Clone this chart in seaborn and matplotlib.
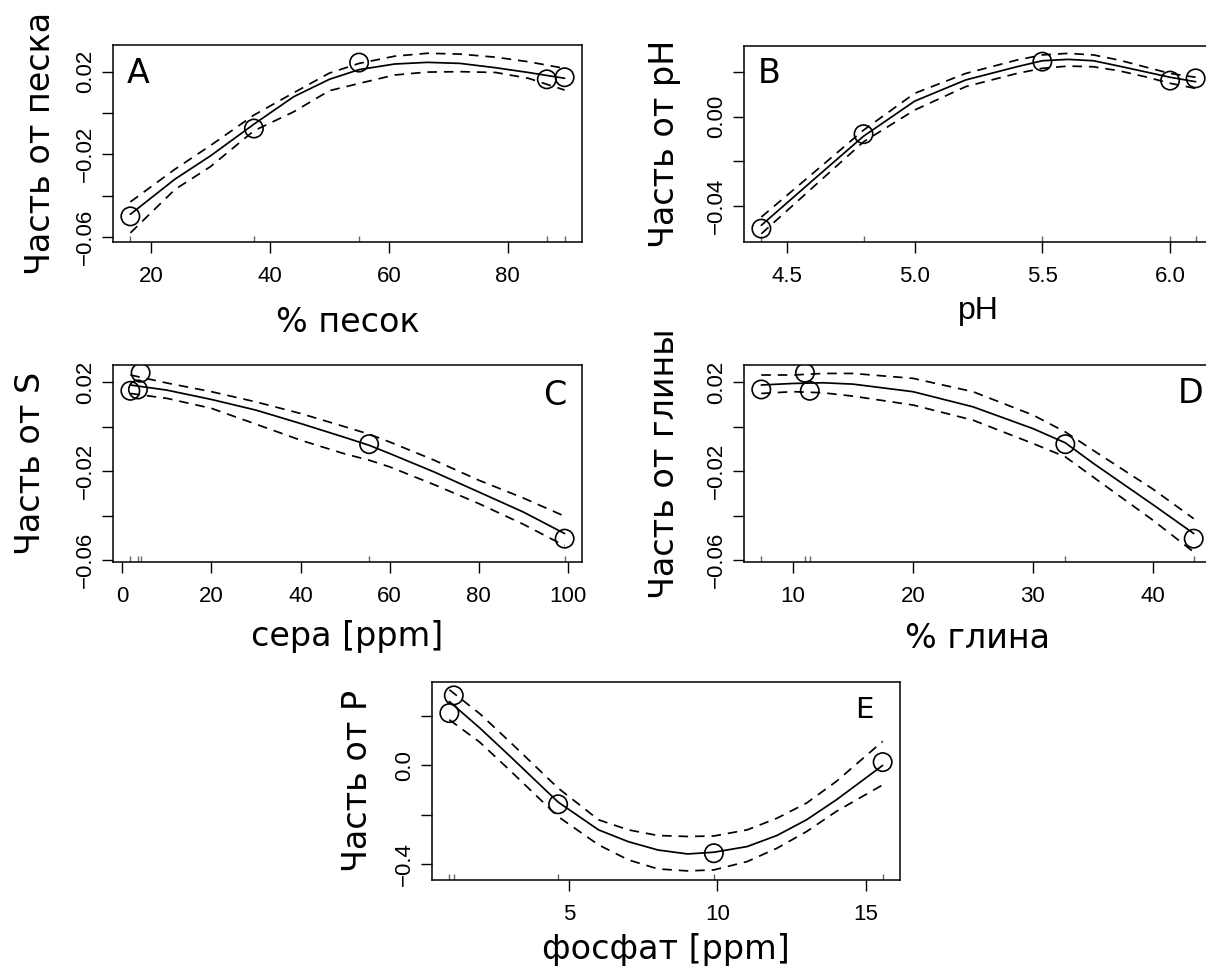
import numpy as np
import pandas as pd
import matplotlib
matplotlib.use("Agg")
import matplotlib.pyplot as plt
import seaborn as sns

# values (partial effects of a GAM)
# A - sand
sand_obs = [16.5, 37.3, 55.0, 86.6, 89.6]
sand_res = [-0.050, -0.0075, 0.0244, 0.0163, 0.0173]
sand_x = [16.5, 24, 30, 37.3, 44, 50, 55, 61, 66.5, 72, 78, 83.5, 89.6]
sand_fit = [-0.049, -0.032, -0.0207, -0.0054, 0.0079, 0.0163, 0.021, 0.0237, 0.0245, 0.024, 0.0219, 0.0196, 0.0168]
sand_up = [-0.043, -0.0272, -0.0157, -0.001, 0.0098, 0.0193, 0.024, 0.0275, 0.0289, 0.0285, 0.027, 0.0248, 0.0216]
sand_lo = [-0.058, -0.037, -0.0259, -0.0086, 0.0006, 0.0108, 0.0143, 0.0184, 0.0198, 0.02, 0.0196, 0.0168, 0.0111]

# B - pH
ph_obs = [4.4, 4.8, 5.5, 6.0, 6.1]
ph_res = [-0.0501, -0.0078, 0.0247, 0.0162, 0.0172]
ph_x = [4.4, 4.6, 4.8, 5.0, 5.2, 5.4, 5.5, 5.6, 5.7, 5.8, 5.9, 6.0, 6.1]
ph_fit = [-0.0486, -0.0286, -0.0087, 0.007, 0.0165, 0.0224, 0.0251, 0.0257, 0.0251, 0.0227, 0.0202, 0.0177, 0.0157]
ph_up = [-0.0449, -0.0255, -0.006, 0.0105, 0.0194, 0.0254, 0.0277, 0.0284, 0.0277, 0.0254, 0.0224, 0.0194, 0.0177]
ph_lo = [-0.0524, -0.0318, -0.0112, 0.003, 0.0135, 0.0194, 0.0217, 0.0227, 0.0224, 0.0206, 0.018, 0.015, 0.0127]

# C - sulphur
s_obs = [1.8, 3.5, 4.1, 55.4, 99.3]
s_res = [0.0162, 0.0168, 0.0243, -0.0078, -0.0503]
s_x = [1.8, 10, 20, 30, 40, 50, 55.4, 60, 70, 80, 90, 99.3]
s_fit = [0.0188, 0.0165, 0.0123, 0.0075, 0.0015, -0.0048, -0.0083, -0.012, -0.0203, -0.0293, -0.0383, -0.048]
s_up = [0.0233, 0.0197, 0.0158, 0.0112, 0.006, 0.0, -0.0033, -0.0068, -0.015, -0.024, -0.032, -0.0402]
s_lo = [0.015, 0.0128, 0.0083, 0.0012, -0.006, -0.0122, -0.015, -0.018, -0.026, -0.0345, -0.0438, -0.0535]

# D - clay
clay_obs = [7.36, 11.0, 11.4, 32.7, 43.4]
clay_res = [0.0168, 0.0243, 0.0162, -0.0078, -0.0503]
clay_x = [7.36, 10, 12.5, 15, 20, 25, 30, 32.7, 35, 40, 43.4]
clay_fit = [0.0188, 0.0195, 0.0198, 0.0192, 0.0158, 0.009, -0.0008, -0.0072, -0.0163, -0.035, -0.048]
clay_up = [0.0233, 0.0233, 0.024, 0.024, 0.0218, 0.0158, 0.0053, -0.0023, -0.0105, -0.028, -0.0413]
clay_lo = [0.015, 0.0158, 0.0153, 0.0138, 0.0098, 0.003, -0.0075, -0.0135, -0.0225, -0.042, -0.0563]

# E - phosphate
p_obs = [0.98, 1.13, 4.64, 9.88, 15.56]
p_res = [0.213, 0.285, -0.158, -0.357, 0.0136]
p_x = [0.98, 2, 3, 4.64, 6, 7, 8, 9, 9.88, 11, 12, 13, 14, 15.56]
p_fit = [0.26, 0.153, 0.04, -0.149, -0.262, -0.31, -0.344, -0.36, -0.353, -0.33, -0.285, -0.221, -0.14, 0.0]
p_up = [0.308, 0.211, 0.098, -0.092, -0.221, -0.262, -0.285, -0.289, -0.287, -0.262, -0.215, -0.153, -0.065, 0.098]
p_lo = [0.186, 0.095, -0.018, -0.208, -0.323, -0.384, -0.421, -0.429, -0.425, -0.391, -0.337, -0.269, -0.187, -0.079]

W, H = 1206, 968
sns.set_style("ticks")
plt.rcParams["font.family"] = ["DejaVu Sans"]
plt.rcParams["axes.linewidth"] = 1.1
for key in ["text.color", "axes.labelcolor", "xtick.color", "ytick.color", "axes.edgecolor"]:
    plt.rcParams[key] = "black"

fig = plt.figure(figsize=(W / 100, H / 100), dpi=100)

panels = [
    dict(letter="A", box=(113, 45, 582, 242), x=sand_x, fit=sand_fit, up=sand_up, lo=sand_lo,
         obs=sand_obs, res=sand_res, ylim=(-0.0624, 0.0329),
         xticks=[20, 40, 60, 80], xfmt="{:.0f}", yticks=[0.02, 0.0, -0.02, -0.04, -0.06],
         yshow=[0.02, -0.02, -0.06], yfmt="{:.2f}",
         ylabel="Часть от песка", ylab_base=49, xlabel="% песок", xlab_base=331,
         let_pos=(127, 57), let_size=24),
    dict(letter="B", box=(744, 46, 1213, 242), x=ph_x, fit=ph_fit, up=ph_up, lo=ph_lo,
         obs=ph_obs, res=ph_res, ylim=(-0.0561, 0.0317),
         xticks=[4.5, 5.0, 5.5, 6.0], xfmt="{:.1f}", yticks=[0.02, 0.0, -0.02, -0.04],
         yshow=[0.0, -0.04], yfmt="{:.2f}",
         ylabel="Часть от pH", ylab_base=673, xlabel="pH", xlab_base=319,
         let_pos=(758, 57), let_size=24),
    dict(letter="C", box=(113, 365, 582, 562), x=s_x, fit=s_fit, up=s_up, lo=s_lo,
         obs=s_obs, res=s_res, ylim=(-0.0608, 0.0278),
         xticks=[0, 20, 40, 60, 80, 100], xfmt="{:.0f}", yticks=[0.02, 0.0, -0.02, -0.04, -0.06],
         yshow=[0.02, -0.02, -0.06], yfmt="{:.2f}",
         ylabel="Часть от S", ylab_base=39, xlabel="сера [ppm]", xlab_base=645,
         let_pos=(543, 379), let_size=24),
    dict(letter="D", box=(744, 365, 1211, 562), x=clay_x, fit=clay_fit, up=clay_up, lo=clay_lo,
         obs=clay_obs, res=clay_res, ylim=(-0.0608, 0.0278),
         xticks=[10, 20, 30, 40], xfmt="{:.0f}", yticks=[0.02, 0.0, -0.02, -0.04, -0.06],
         yshow=[0.02, -0.02, -0.06], yfmt="{:.2f}",
         ylabel="Часть от глины", ylab_base=673, xlabel="% глина", xlab_base=647,
         let_pos=(1178, 377), let_size=24),
    dict(letter="E", box=(432, 682, 900, 880), x=p_x, fit=p_fit, up=p_up, lo=p_lo,
         obs=p_obs, res=p_res, ylim=(-0.466, 0.3395),
         xticks=[5, 10, 15], xfmt="{:.0f}", yticks=[0.2, 0.0, -0.2, -0.4],
         yshow=[0.0, -0.4], yfmt="{:.1f}",
         ylabel="Часть от P", ylab_base=366, xlabel="фосфат [ppm]", xlab_base=958,
         let_pos=(855, 696), let_size=21),
]

tick_font = dict(family="Liberation Sans", size=16)

for p in panels:
    l, t, r, b = p["box"]
    ax = fig.add_axes([l / W, 1 - b / H, (r - l) / W, (b - t) / H])

    sns.lineplot(x=p["x"], y=p["fit"], ax=ax, color="black", lw=1.25, estimator=None, sort=False)
    for band in (p["up"], p["lo"]):
        sns.lineplot(x=p["x"], y=band, ax=ax, color="black", lw=1.25, ls=(0, (5.5, 4)),
                     estimator=None, sort=False)
    sns.scatterplot(x=p["obs"], y=p["res"], ax=ax, s=175, marker="o",
                    facecolor="none", edgecolor="black", linewidth=1.2, zorder=3)
    sns.rugplot(x=p["obs"], ax=ax, height=0.03, color="0.4", lw=0.9, expand_margins=False)

    # R-style 4% padding around the data range
    span = max(p["obs"]) - min(p["obs"])
    ax.set_xlim(min(p["obs"]) - 0.04 * span, max(p["obs"]) + 0.04 * span)
    ax.set_ylim(*p["ylim"])

    ax.set_xticks(p["xticks"])
    ax.set_xticklabels([p["xfmt"].format(v) for v in p["xticks"]], fontdict=tick_font)
    ax.set_yticks(p["yticks"])
    ylabs = []
    for v in p["yticks"]:
        if any(abs(v - s) < 1e-9 for s in p["yshow"]):
            ylabs.append(p["yfmt"].format(v).replace("-", "\u2212"))
        else:
            ylabs.append("")
    ax.set_yticklabels(ylabs, fontdict=tick_font, rotation=90, va="center")
    ax.tick_params(axis="both", direction="out", length=8, width=1.0, color="black")
    ax.tick_params(axis="x", pad=9)
    ax.tick_params(axis="y", pad=4)
    for sp in ax.spines.values():
        sp.set_visible(True)
        sp.set_color("black")

    w_px, h_px = r - l, b - t
    ax.set_ylabel(p["ylabel"], fontsize=24)
    ax.yaxis.set_label_coords((p["ylab_base"] + 8 - l) / w_px, 0.5)
    if p["xlabel"] == "pH":
        ax.set_xlabel(p["xlabel"], fontsize=23, family="Liberation Sans")
        top = p["xlab_base"] - 23.5
    else:
        ax.set_xlabel(p["xlabel"], fontsize=24)
        top = p["xlab_base"] - 25
    ax.xaxis.set_label_coords(0.5, -(top - b) / h_px)

    lx, ly = p["let_pos"]
    fig.text(lx / W, 1 - ly / H, p["letter"], fontsize=p["let_size"], ha="left", va="top")

fig.savefig("out.png", dpi=100)
